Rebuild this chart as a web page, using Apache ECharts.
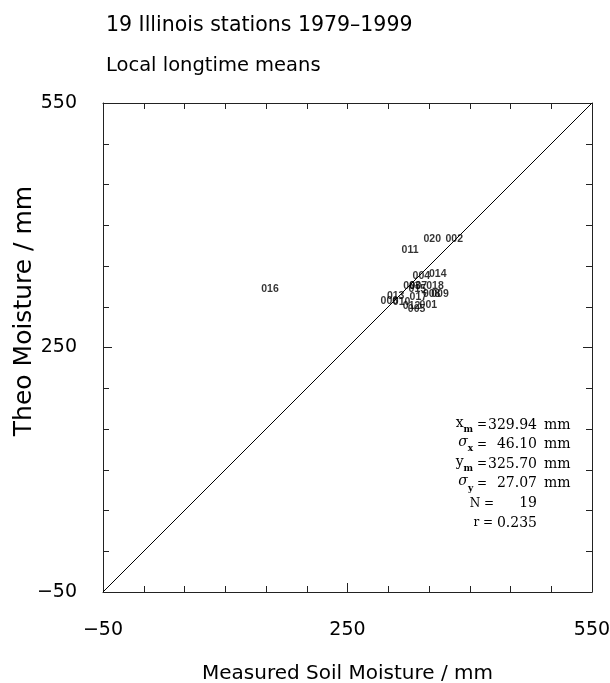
<!DOCTYPE html>
<html>
<head>
<meta charset="utf-8">
<script src="https://cdn.jsdelivr.net/npm/echarts@6/dist/echarts.min.js"></script>
<style>
  html, body { margin: 0; padding: 0; background: #fff; }
  #chart { width: 610px; height: 683px; }
</style>
</head>
<body>
<div id="chart"></div>
<script>
// station ids and their long-time means (mm)
const stations = ['001', '002', '003', '004', '005', '006', '007', '008', '009', '010',
                  '011', '012', '013', '014', '015', '016', '017', '018', '020']
const measured = [349.2, 381.0, 329.0, 340.6, 334.8, 301.3, 336.9, 353.3, 363.5, 316.4,
                  326.7, 328.6, 309.1, 360.7, 335.7, 154.9, 336.9, 357.4, 354.0]
const theo = [302.1, 383.1, 325.5, 338.1, 297.6, 307.0, 325.8, 315.3, 315.3, 305.5,
              369.6, 300.6, 312.6, 339.8, 322.1, 321.4, 311.6, 325.8, 383.1]
const diagonal = [[-50, -50], [550, 550]]
const axisMin = -50
const axisMax = 550
const labelTicks = [-50, 250, 550]
const majorTicks = [250]

// summary lines of the stats box
const statLabels = ['{v|x}{s|m} =', '{g|σ}{s|x} =', '{v|y}{s|m} =', '{g|σ}{s|y} =', 'N =', 'r =']
const statValues = ['329.94', '46.10', '325.70', '27.07', '19', '0.235']
const statUnits = ['mm', 'mm', 'mm', 'mm', '', '']

const chart = echarts.init(document.getElementById('chart'))

const sans = 'DejaVu Sans'
const lineColor = '#222'

function fmt(v) {
    return v < 0 ? '\u2212' + Math.abs(v) : String(v)
}

function baseAxis(extra) {
    return Object.assign({
        type: 'value',
        min: axisMin,
        max: axisMax,
        interval: 50,
        splitLine: { show: false },
        axisLine: { show: true, onZero: false, lineStyle: { color: lineColor, width: 1 } },
        axisTick: { show: true, inside: true, length: 6, lineStyle: { color: lineColor } },
        axisLabel: { show: false }
    }, extra)
}

// second axis on the same side, only carrying the longer tick at 250
function majorAxis(pos) {
    return baseAxis({
        position: pos,
        axisLine: { show: false, onZero: false },
        axisTick: { show: true, inside: true, length: 9, customValues: majorTicks, lineStyle: { color: lineColor } }
    })
}

const mainLabel = {
    show: true,
    customValues: labelTicks,
    formatter: fmt,
    color: '#000',
    fontFamily: sans,
    fontSize: 19
}

// stats box graphics
const rowTop = 425
const rowStep = 19.6
const labelRight = [487, 487, 487, 487, 494, 493]
const statGraphics = []
statLabels.forEach((lab, i) => {
    const y = rowTop + i * rowStep
    statGraphics.push({
        type: 'text', x: labelRight[i], y: y,
        style: {
            text: lab, align: 'right', verticalAlign: 'middle',
            fontFamily: 'DejaVu Serif', fontSize: 12, fill: '#000',
            rich: {
                v: { fontFamily: 'DejaVu Serif', fontSize: 14, lineHeight: 18, verticalAlign: 'top' },
                g: { fontFamily: 'DejaVu Serif', fontStyle: 'italic', fontSize: 14, lineHeight: 18, verticalAlign: 'top' },
                s: { fontFamily: 'DejaVu Serif', fontWeight: 'bold', fontSize: 9, lineHeight: 10, verticalAlign: 'bottom' }
            }
        }
    })
    statGraphics.push({
        type: 'text', x: 537, y: y,
        style: {
            text: statValues[i], align: 'right', verticalAlign: 'middle',
            fontFamily: 'DejaVu Serif', fontSize: 14, fill: '#000'
        }
    })
    if (statUnits[i]) {
        statGraphics.push({
            type: 'text', x: 544, y: y,
            style: {
                text: statUnits[i], align: 'left', verticalAlign: 'middle',
                fontFamily: 'DejaVu Serif', fontSize: 14, fill: '#000'
            }
        })
    }
})

const option = {
    animation: false,
    backgroundColor: '#fff',
    title: [
        {
            text: '19 Illinois stations 1979\u20131999',
            left: 101, top: 10,
            textStyle: { fontFamily: sans, fontSize: 20.5, fontWeight: 'normal', color: '#000' }
        },
        {
            text: 'Local longtime means',
            left: 101, top: 51,
            textStyle: { fontFamily: sans, fontSize: 19.5, fontWeight: 'normal', color: '#000' }
        }
    ],
    grid: { left: 103, right: 18, top: 103, bottom: 91, containLabel: false, outerBoundsMode: 'none' },
    xAxis: [
        baseAxis({
            position: 'bottom',
            axisLabel: Object.assign({}, mainLabel, { margin: 29 }),
            name: 'Measured Soil Moisture / mm',
            nameLocation: 'middle',
            nameGap: 72,
            nameTextStyle: { fontFamily: sans, fontSize: 20, color: '#000' }
        }),
        majorAxis('bottom'),
        baseAxis({ position: 'top' })
    ],
    yAxis: [
        baseAxis({
            position: 'left',
            axisLabel: Object.assign({}, mainLabel, { margin: 26 })
        }),
        majorAxis('left'),
        baseAxis({ position: 'right' }),
        majorAxis('right')
    ],
    graphic: [
        {
            type: 'text', x: 24, y: 311, rotation: Math.PI / 2,
            style: {
                text: 'Theo Moisture / mm', align: 'center', verticalAlign: 'middle',
                fontFamily: sans, fontSize: 25, fill: '#000'
            }
        }
    ].concat(statGraphics),
    series: [
        {
            type: 'line',
            data: diagonal,
            symbol: 'none',
            silent: true,
            lineStyle: { color: '#000', width: 1 }
        },
        {
            type: 'scatter',
            symbolSize: 0,
            data: stations.map((s, i) => ({ name: s, value: [measured[i], theo[i]] })),
            label: {
                show: true,
                position: 'inside',
                formatter: p => p.name,
                color: '#000',
                fontFamily: 'Liberation Sans',
                fontWeight: 'bold',
                fontSize: 10.5
            }
        }
    ]
}

chart.setOption(option)
</script>
</body>
</html>
